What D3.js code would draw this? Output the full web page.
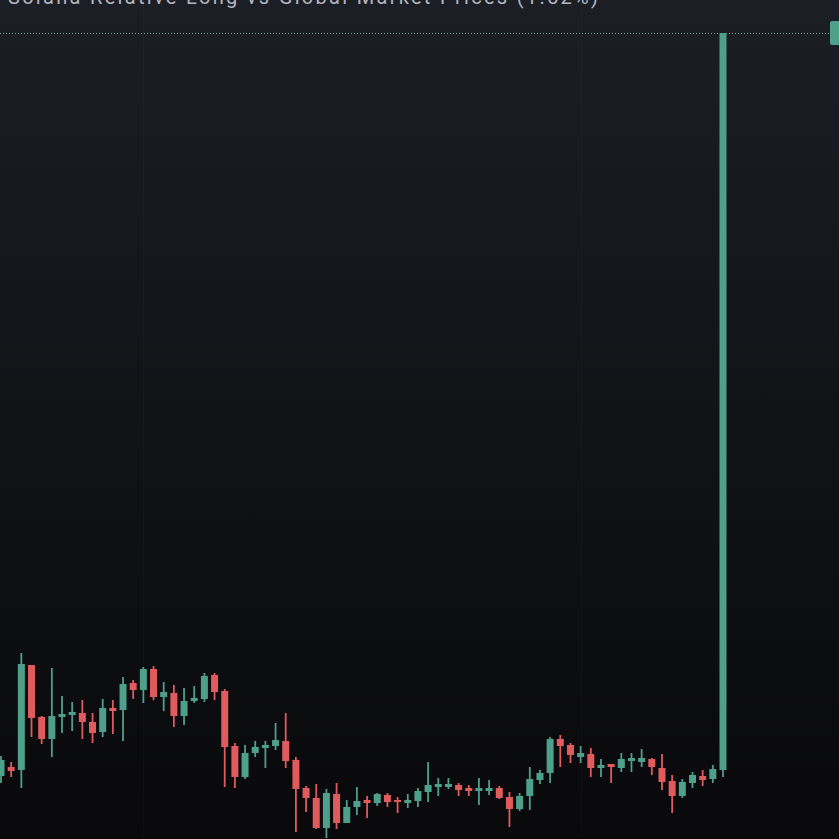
<!DOCTYPE html>
<html>
<head>
<meta charset="utf-8">
<script src="https://cdn.jsdelivr.net/npm/d3@7"></script>
<style>
  html, body { margin: 0; padding: 0; background: #0b0b0d; overflow: hidden; }
  svg { display: block; }
</style>
</head>
<body>
<div id="chart"></div>
<script>
// candle values (index = bar number)
const opens  = [7.4, 8.3, 8.0, 18.5, 13.3, 11.1, 13.3, 13.5, 13.7, 12.8, 11.8, 14.2, 14.0, 16.7, 16.0, 18.1, 15.3, 15.7, 13.4, 14.9,
                15.1, 17.5, 15.9, 10.4, 7.3, 9.7, 10.2, 10.4, 10.9, 9.0, 6.2, 5.2, 2.2, 5.6, 2.7, 4.3, 5.0, 4.7, 5.5, 5.0,
                4.7, 4.9, 5.8, 6.3, 6.3, 6.5, 6.2, 5.9, 5.9, 6.2, 5.3, 4.1, 5.4, 7.0, 7.7, 11.1, 10.5, 9.3, 9.6, 8.2,
                8.6, 8.2, 8.9, 8.8, 9.1, 8.2, 6.9, 5.4, 6.7, 7.4, 7.1, 8.0];
const highs  = [9.4, 8.8, 19.7, 18.5, 13.4, 18.2, 15.4, 14.8, 15.0, 13.7, 15.1, 15.0, 17.3, 17.0, 18.3, 18.4, 16.8, 16.5, 16.2, 16.4,
                17.7, 17.7, 16.1, 10.7, 10.5, 10.9, 10.9, 12.7, 13.7, 9.3, 6.4, 6.6, 6.1, 6.7, 5.0, 6.3, 5.4, 5.7, 5.7, 5.3,
                5.6, 6.2, 8.8, 7.2, 7.2, 6.7, 6.5, 7.2, 7.0, 6.4, 5.8, 5.7, 8.3, 8.0, 11.3, 11.5, 10.7, 10.4, 10.2, 9.1,
                8.6, 9.7, 9.7, 10.1, 9.2, 9.6, 7.5, 7.1, 7.8, 8.0, 8.5, 81.7];
const lows   = [6.7, 7.3, 6.2, 11.3, 10.6, 9.3, 11.7, 11.9, 11.1, 10.7, 11.3, 11.6, 10.9, 15.1, 14.7, 15.0, 13.9, 12.3, 12.5, 14.7,
                14.8, 15.0, 6.3, 6.2, 7.1, 9.3, 8.2, 10.0, 8.2, 1.8, 3.8, 2.1, 1.2, 2.1, 2.7, 3.5, 3.2, 4.4, 4.3, 3.7,
                4.2, 4.3, 4.8, 5.4, 6.1, 5.4, 5.4, 4.5, 5.5, 5.1, 2.3, 3.9, 4.0, 6.6, 6.7, 8.3, 8.7, 8.7, 7.3, 7.3,
                6.7, 7.8, 7.8, 8.3, 7.5, 6.0, 3.7, 5.2, 6.2, 6.4, 6.7, 7.3];
const closes = [9.0, 7.9, 18.6, 13.2, 11.1, 13.4, 13.6, 13.8, 12.8, 11.7, 14.2, 13.9, 16.6, 16.0, 18.1, 15.3, 15.8, 13.4, 14.9, 15.2,
                17.4, 15.8, 10.3, 7.3, 9.7, 10.3, 10.5, 11.0, 8.9, 6.1, 5.2, 2.2, 5.7, 2.7, 4.3, 4.9, 4.7, 5.6, 4.8, 4.8,
                5.0, 5.9, 6.5, 6.6, 6.6, 6.0, 5.9, 6.2, 6.2, 5.2, 4.1, 5.4, 7.1, 7.7, 11.1, 10.4, 9.5, 9.7, 8.2, 8.5,
                8.3, 9.1, 9.2, 9.2, 8.3, 6.8, 5.4, 6.8, 7.5, 7.0, 8.1, 81.7];

const legendText = "Solana Relative Long vs Global Market Prices (1.52%)";

const upColor = "#4fa08b";
const downColor = "#e05b5e";

const width = 839, height = 839;

const candles = opens.map((o, i) => ({
    index: i, open: o, high: highs[i], low: lows[i], close: closes[i]
}));

const svg = d3.select("#chart").append("svg")
    .attr("width", width)
    .attr("height", height);

// background gradient
const defs = svg.append("defs");
const grad = defs.append("linearGradient")
    .attr("id", "bg")
    .attr("x1", 0).attr("y1", 0).attr("x2", 0).attr("y2", 1);
grad.append("stop").attr("offset", "0%").attr("stop-color", "#1b1e25");
grad.append("stop").attr("offset", "55%").attr("stop-color", "#111216");
grad.append("stop").attr("offset", "100%").attr("stop-color", "#09090b");

svg.append("rect")
    .attr("width", width)
    .attr("height", height)
    .attr("fill", "url(#bg)");

const x = d3.scaleLinear()
    .domain([0, candles.length - 1])
    .range([1, 723]);

const y = d3.scaleLinear()
    .domain([0, 82])
    .range([850, 30]);

const bodyW = 7;

// faint vertical grid
svg.append("g")
    .selectAll("line")
    .data([14, 57])
    .enter().append("line")
    .attr("x1", d => Math.round(x(d)) + 0.5)
    .attr("x2", d => Math.round(x(d)) + 0.5)
    .attr("y1", 0)
    .attr("y2", height)
    .attr("stroke", "rgba(255,255,255,0.025)");

// last price line
const last = candles[candles.length - 1];
svg.append("line")
    .attr("x1", 0)
    .attr("x2", 830)
    .attr("y1", Math.round(y(last.close)) + 0.5)
    .attr("y2", Math.round(y(last.close)) + 0.5)
    .attr("stroke", "#5fa89a")
    .attr("stroke-width", 1)
    .attr("stroke-dasharray", "1,2");

const g = svg.append("g").attr("class", "candles");

g.selectAll(".wick")
    .data(candles)
    .enter().append("line")
    .attr("class", "wick")
    .attr("x1", d => x(d.index))
    .attr("x2", d => x(d.index))
    .attr("y1", d => y(d.high))
    .attr("y2", d => y(d.low))
    .attr("stroke", d => d.close >= d.open ? upColor : downColor)
    .attr("stroke-width", 1.8);

g.selectAll(".body")
    .data(candles)
    .enter().append("rect")
    .attr("class", "body")
    .attr("x", d => x(d.index) - bodyW / 2)
    .attr("y", d => y(Math.max(d.open, d.close)))
    .attr("width", bodyW)
    .attr("height", d => Math.max(1.5, Math.abs(y(d.open) - y(d.close))))
    .attr("fill", d => d.close >= d.open ? upColor : downColor);

// price tag on the right edge (its text lies beyond the frame)
svg.append("rect")
    .attr("x", 830)
    .attr("y", y(last.close) - 12)
    .attr("width", 40)
    .attr("height", 24)
    .attr("rx", 2)
    .attr("fill", upColor);

// legend at the top, mostly cut off
svg.append("text")
    .attr("x", 8)
    .attr("y", 4)
    .attr("fill", "#b2b5be")
    .attr("font-family", "Roboto, sans-serif")
    .attr("font-size", 20)
    .attr("textLength", 590)
    .attr("lengthAdjust", "spacing")
    .text(legendText);
</script>
</body>
</html>
